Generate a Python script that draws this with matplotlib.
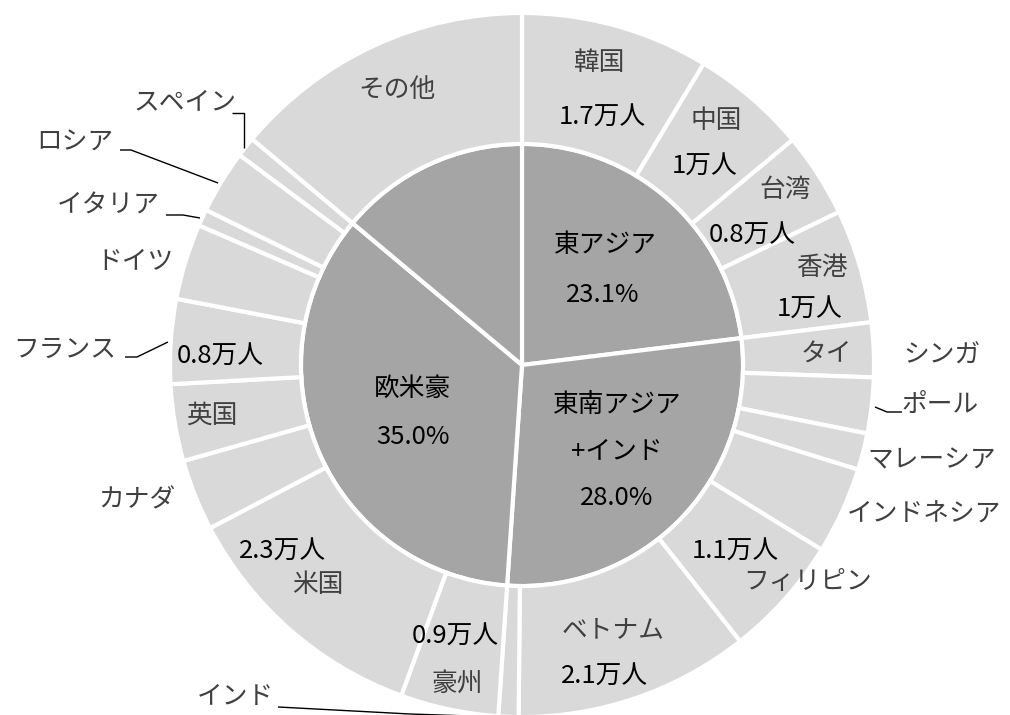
import matplotlib
matplotlib.use("Agg")
import matplotlib.pyplot as plt

plt.rcParams['font.family'] = ['Noto Sans CJK JP', 'DejaVu Sans']

# ---- data ----
regions = ["東アジア", "東南アジア\n+インド", "欧米豪", "その他"]
region_labels = ["東アジア", "東南アジア\n+インド", "欧米豪", ""]
countries = ["韓国", "中国", "台湾", "香港",
             "タイ", "シンガポール", "マレーシア", "インドネシア", "フィリピン", "ベトナム", "インド",
             "豪州", "米国", "カナダ", "英国", "フランス", "ドイツ", "イタリア", "ロシア", "スペイン",
             "その他"]
country_region = [0, 0, 0, 0,
                  1, 1, 1, 1, 1, 1, 1,
                  2, 2, 2, 2, 2, 2, 2, 2, 2,
                  3]
values = [1.69, 1.04, 0.76, 1.02,
          0.49, 0.50, 0.33, 0.78, 1.09, 2.11, 0.18,
          0.88, 2.30, 0.64, 0.69, 0.76, 0.68, 0.15, 0.57, 0.18,
          2.72]
show_value = ["韓国", "中国", "台湾", "香港", "フィリピン", "ベトナム", "豪州", "米国", "フランス"]

region_values = [sum(v for v, r in zip(values, country_region) if r == i) for i in range(len(regions))]
total = sum(values)

# ---- layout (pixels) ----
W, H = 1010, 715
CX, CY, R = 522, 365, 352
R_IN = 0.628

fig = plt.figure(figsize=(W / 100, H / 100), dpi=100)
ax = fig.add_axes([0, 0, 1, 1])

inner_col = "#A5A5A5"
outer_col = "#D9D9D9"

ax.pie(region_values, radius=R_IN, startangle=90, counterclock=False,
       colors=[inner_col] * len(region_values),
       wedgeprops=dict(edgecolor="white", linewidth=3))
ax.pie(values, radius=1.0, startangle=90, counterclock=False,
       colors=[outer_col] * len(values),
       wedgeprops=dict(width=1.0 - R_IN, edgecolor="white", linewidth=3))

ax.set_xlim(-CX / R, (W - CX) / R)
ax.set_ylim(-(H - CY) / R, CY / R)
ax.set_aspect("equal")
ax.axis("off")


def P(x, y):
    return ((x - CX) / R, (CY - y) / R)


def fmt_val(v):
    s = f"{v:.1f}"
    if s.endswith(".0"):
        s = s[:-2]
    return s + "万人"


FS = 18.5
NAME_C = "#404040"
VAL_C = "#000000"

# inner labels
inner_pos = {
    0: [(605, 245), (603, 295)],
    1: [(617, 405), (617, 452), (617, 498)],
    2: [(413, 389), (413, 437)],
}
for i, pos in inner_pos.items():
    lines = region_labels[i].split("\n") + [f"{region_values[i] / total * 100:.1f}%"]
    for txt, (x, y) in zip(lines, pos):
        ax.text(*P(x, y), txt, ha="center", va="center", fontsize=FS, color="black")

# outer label positions: name pos, value pos
name_pos = {
    "韓国": (600, 63), "中国": (716, 121), "台湾": (785, 190), "香港": (822, 268),
    "タイ": (826, 355), "マレーシア": (932, 460), "インドネシア": (924, 515),
    "フィリピン": (808, 582), "ベトナム": (613, 630), "インド": (235, 697),
    "豪州": (457, 684), "米国": (318, 585), "カナダ": (137, 500), "英国": (212, 416),
    "フランス": (65, 350), "ドイツ": (135, 262), "イタリア": (108, 206),
    "ロシア": (75, 143), "スペイン": (185, 102), "その他": (397, 90),
}
val_pos = {
    "韓国": (602, 118), "中国": (705, 167), "台湾": (752, 236), "香港": (810, 310),
    "フィリピン": (735, 552), "ベトナム": (605, 677), "豪州": (455, 637),
    "米国": (283, 552), "フランス": (220, 357),
}

for name, v in zip(countries, values):
    if name == "シンガポール":
        ax.text(*P(942, 356), "シンガ", ha="center", va="center", fontsize=FS, color=NAME_C)
        ax.text(*P(940, 405), "ポール", ha="center", va="center", fontsize=FS, color=NAME_C)
    else:
        ax.text(*P(*name_pos[name]), name, ha="center", va="center", fontsize=FS, color=NAME_C)
    if name in show_value:
        ax.text(*P(*val_pos[name]), fmt_val(v), ha="center", va="center", fontsize=FS, color=VAL_C)

# leader lines
leaders = [
    [(232, 113), (244, 113), (244, 148)],          # スペイン
    [(120, 150), (131, 150), (218, 183)],          # ロシア
    [(166, 215), (183, 215), (200, 218)],          # イタリア
    [(125, 357), (137, 357), (168, 342)],          # フランス
    [(278, 707), (410, 714), (470, 716)],          # インド
    [(875, 407), (887, 412), (902, 412)],          # シンガポール
]
for pts in leaders:
    xs, ys = zip(*[P(x, y) for x, y in pts])
    ax.plot(xs, ys, color="black", lw=1, solid_capstyle="butt")

fig.savefig("out.png", dpi=100, facecolor="white")
